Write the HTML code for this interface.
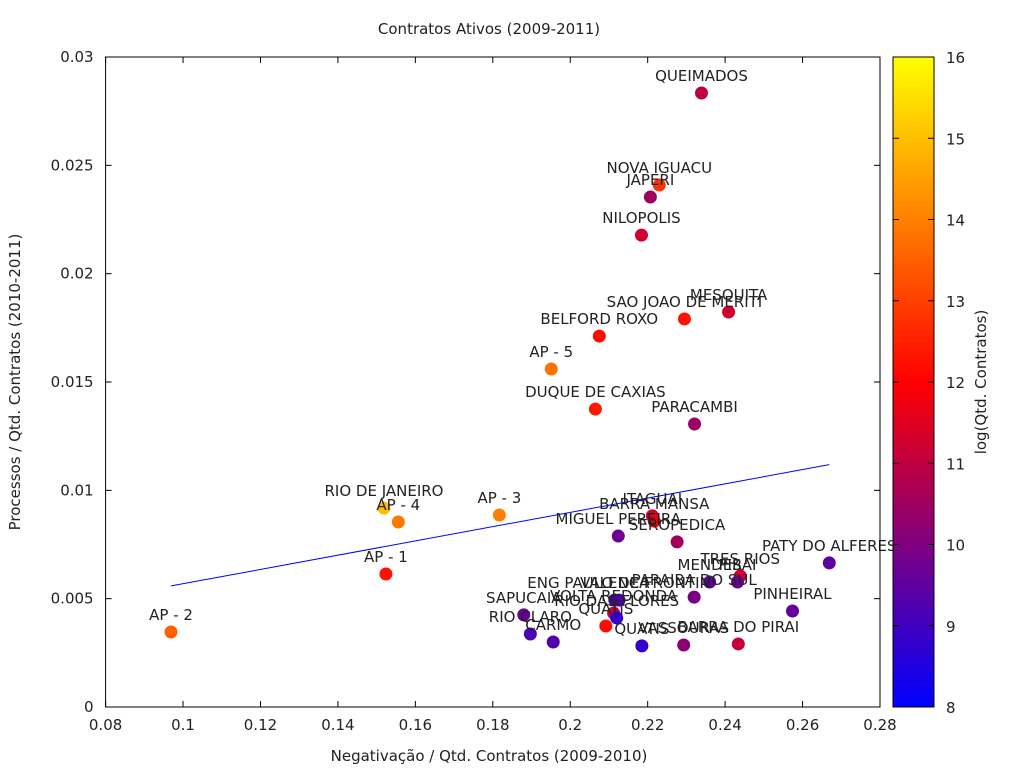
<!DOCTYPE html>
<html><head><meta charset="utf-8"><style>
body{margin:0;background:#fff}
svg{display:block;font-family:"DejaVu Sans","Liberation Sans",sans-serif}
</style></head><body>
<svg id="chart" width="1024" height="768" viewBox="0 0 1024 768" xmlns="http://www.w3.org/2000/svg">
<defs><linearGradient id="pal" x1="0" y1="1" x2="0" y2="0">
<stop offset="0" stop-color="#0000ff"/><stop offset="0.5" stop-color="#ff0000"/><stop offset="1" stop-color="#ffff00"/></linearGradient></defs>
<text x="489" y="34" font-size="15" text-anchor="middle" fill="#222">Contratos Ativos (2009-2011)</text>
<text x="489" y="761" font-size="15" text-anchor="middle" fill="#222">Negativação / Qtd. Contratos (2009-2010)</text>
<text transform="translate(20,382) rotate(-90)" font-size="15" text-anchor="middle" fill="#222">Processos / Qtd. Contratos (2010-2011)</text>
<g id="axes"></g><g id="marks"></g>
<rect x="105.6" y="57" width="774.4" height="650" fill="none" stroke="#000" stroke-width="1"/>
<rect x="893" y="57" width="41" height="650" fill="url(#pal)" stroke="#000"/>
<g id="cbticks"></g>
<text transform="translate(986,382) rotate(-90)" font-size="15" text-anchor="middle" fill="#222">log(Qtd. Contratos)</text>
</svg>
<script>
const names=["QUEIMADOS","NOVA IGUACU","JAPERI","NILOPOLIS","MESQUITA","SAO JOAO DE MERITI","BELFORD ROXO","AP - 5","DUQUE DE CAXIAS","PARACAMBI","RIO DE JANEIRO","AP - 4","AP - 3","ITAGUAI","BARRA MANSA","MIGUEL PEREIRA","SEROPEDICA","AP - 1","AP - 2","PATY DO ALFERES","TRES RIOS","MENDES","PIRAI","PARAIBA DO SUL","ENG PAULO DE FRONTIN","VALENCA","VOLTA REDONDA","RIO DAS FLORES","QUATIS","SAPUCAIA","RIO CLARO","CARMO","QUATIS","VASSOURAS","BARRA DO PIRAI","PINHEIRAL"];
const xVals=[0.2339,0.2230,0.2207,0.2184,0.2409,0.2295,0.2075,0.1951,0.2065,0.2321,0.1519,0.1556,0.1817,0.2212,0.2217,0.2124,0.2276,0.1524,0.0969,0.2669,0.2439,0.2360,0.2432,0.2320,0.2126,0.2115,0.2112,0.2120,0.2092,0.1880,0.1897,0.1956,0.2185,0.2293,0.2434,0.2574];
const yVals=[0.02834,0.02409,0.02354,0.02178,0.01823,0.01791,0.01712,0.01560,0.01375,0.01306,0.00918,0.00854,0.00886,0.00882,0.00858,0.00789,0.00762,0.00614,0.00346,0.00665,0.00605,0.00577,0.00577,0.00507,0.00493,0.00494,0.00434,0.00411,0.00374,0.00425,0.00337,0.00300,0.00282,0.00286,0.00291,0.00443];
const cVals=[11.0,12.8,10.5,11.3,11.3,12.3,12.2,13.8,12.4,10.4,15.0,13.9,14.0,11.2,11.8,9.7,10.6,12.3,13.5,9.5,11.3,9.5,9.7,9.9,9.3,9.2,11.0,8.8,12.2,9.6,9.2,9.3,8.8,10.2,11.1,9.6];
const xTicks=[0.08,0.1,0.12,0.14,0.16,0.18,0.2,0.22,0.24,0.26,0.28];
const yTicks=[0,0.005,0.01,0.015,0.02,0.025,0.03];
const cTicks=[8,9,10,11,12,13,14,15,16];
const NS="http://www.w3.org/2000/svg";
const L=105.6,R=880,T=57,B=707;
const sx=v=>L+(v-0.08)/(0.28-0.08)*(R-L);
const sy=v=>B-v/0.03*(B-T);
const sc=v=>B-(v-8)/8*(B-T);
function col(v){let t=Math.max(0,Math.min(1,(v-8)/8));let r,g,b;
 if(t<0.5){let u=t/0.5;r=255*u;g=0;b=255*(1-u);}else{let u=(t-0.5)/0.5;r=255;g=255*u;b=0;}
 return `rgb(${r|0},${g|0},${b|0})`;}
function mk(tag,attrs,parent){const e=document.createElementNS(NS,tag);for(const k in attrs)e.setAttribute(k,attrs[k]);parent.appendChild(e);return e;}
const axes=document.getElementById('axes'),marks=document.getElementById('marks'),cb=document.getElementById('cbticks');
xTicks.forEach(v=>{const x=sx(v);
 const l1=mk('line',{x1:x,x2:x,y1:B,y2:B-6,stroke:'#000'},axes);
 
 
 mk('line',{x1:x,x2:x,y1:T,y2:T+6,stroke:'#000'},axes);
 const t=mk('text',{x:x,y:B+23,'font-size':15,'text-anchor':'middle',fill:'#222'},axes);t.textContent=String(v);
 
 });
yTicks.forEach(v=>{const y=sy(v);
 const l1=mk('line',{x1:L,x2:L+6,y1:y,y2:y,stroke:'#000'},axes);
 
 
 mk('line',{x1:R,x2:R-6,y1:y,y2:y,stroke:'#000'},axes);
 const t=mk('text',{x:L-12,y:y+5,'font-size':15,'text-anchor':'end',fill:'#222'},axes);t.textContent=String(v);
 
 });
cTicks.forEach(v=>{const y=sc(v);
 if(v>8&&v<16){mk('line',{x1:893,x2:899,y1:y,y2:y,stroke:'#000'},cb);mk('line',{x1:934,x2:928,y1:y,y2:y,stroke:'#000'},cb);}
 const t=mk('text',{x:946,y:y+6,'font-size':15,fill:'#222'},cb);t.textContent=String(v);
 
 });
const n=xVals.length;let mx=0,my=0;xVals.forEach((v,i)=>{mx+=v;my+=yVals[i];});mx/=n;my/=n;
let sxy=0,sxx=0;xVals.forEach((v,i)=>{sxy+=(v-mx)*(yVals[i]-my);sxx+=(v-mx)*(v-mx);});
const slope=sxy/sxx,icpt=my-slope*mx;
const x0=Math.min(...xVals),x1=Math.max(...xVals);
const tl=mk('line',{x1:sx(x0),y1:sy(icpt+slope*x0),x2:sx(x1),y2:sy(icpt+slope*x1),stroke:'#0000ff','stroke-width':1},marks);


xVals.forEach((v,i)=>{const x=sx(v),y=sy(yVals[i]);
 const c=mk('circle',{cx:x,cy:y,r:6.5,fill:col(cVals[i])},marks);
 
 
 const t=mk('text',{x:x,y:y-12,'font-size':15,'text-anchor':'middle',fill:'#222'},marks);t.textContent=names[i];
 
 });
</script>
</body></html>
